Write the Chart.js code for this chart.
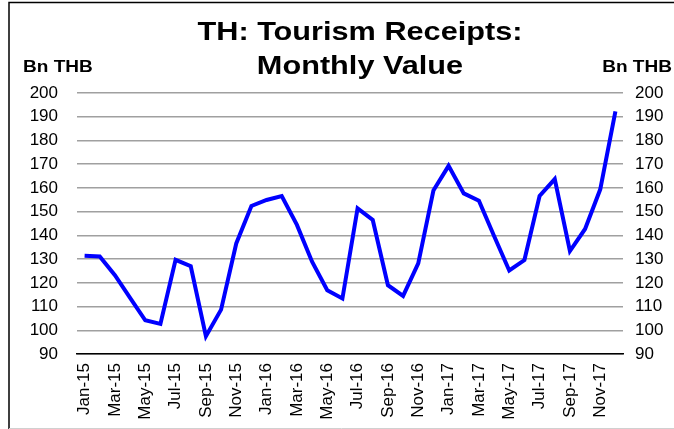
<!DOCTYPE html>
<html>
<head>
<meta charset="utf-8">
<script src="https://cdn.jsdelivr.net/npm/chart.js@4/dist/chart.umd.min.js"></script>
<style>
  html, body { margin: 0; padding: 0; background: #fff; }
  #wrap { position: relative; width: 674px; height: 429px; }
</style>
</head>
<body>
<div id="wrap"><canvas id="chart"></canvas></div>
<script>
const months = [
  "Jan-15", "Feb-15", "Mar-15", "Apr-15", "May-15", "Jun-15", "Jul-15", "Aug-15", "Sep-15", "Oct-15", "Nov-15", "Dec-15",
  "Jan-16", "Feb-16", "Mar-16", "Apr-16", "May-16", "Jun-16", "Jul-16", "Aug-16", "Sep-16", "Oct-16", "Nov-16", "Dec-16",
  "Jan-17", "Feb-17", "Mar-17", "Apr-17", "May-17", "Jun-17", "Jul-17", "Aug-17", "Sep-17", "Oct-17", "Nov-17", "Dec-17"
];

// monthly tourism receipts, Bn THB
const receipts = [
  131.4, 131.1, 123.2, 113.7, 104.2, 102.7, 129.7, 127.0, 97.5, 108.7, 136.6, 152.4,
  154.9, 156.6, 144.4, 128.9, 116.9, 113.4, 151.4, 146.5, 119.0, 114.5, 128.2, 158.9,
  169.3, 157.7, 154.6, 139.7, 125.2, 129.6, 156.6, 163.7, 133.4, 142.7, 159.4, 192.3
];

const titleLines = ["TH: Tourism Receipts:", "Monthly Value"];
const unitLabel = "Bn THB";
const yMin = 90;
const yMax = 200;
const yStep = 10;

const FONT = "'Liberation Sans', Arial, sans-serif";

// stretched text helper, the original fonts are a bit wider than Arial
function wideText(ctx, text, x, y, sx, align) {
  ctx.save();
  ctx.translate(x, y);
  ctx.scale(sx, 1);
  ctx.textAlign = align;
  ctx.fillText(text, 0, 0);
  ctx.restore();
}

const frameAndTitles = {
  id: "frameAndTitles",
  beforeDraw(chart) {
    const ctx = chart.ctx;
    ctx.save();
    ctx.fillStyle = "#fff";
    ctx.fillRect(0, 0, chart.width, chart.height);
    ctx.strokeStyle = "#000";
    ctx.lineWidth = 1.5;
    ctx.beginPath();
    ctx.moveTo(9, chart.height);
    ctx.lineTo(9, 2.5);
    ctx.lineTo(chart.width, 2.5);
    ctx.stroke();
    ctx.strokeStyle = "#d0d0d0";
    ctx.lineWidth = 1;
    ctx.beginPath();
    ctx.moveTo(9, 428.5);
    ctx.lineTo(chart.width, 428.5);
    ctx.stroke();
    ctx.restore();
  },
  afterDraw(chart) {
    const ctx = chart.ctx;
    ctx.save();
    ctx.fillStyle = "#000";
    ctx.textBaseline = "alphabetic";
    ctx.font = "bold 26px " + FONT;
    wideText(ctx, titleLines[0], 360, 40, 1.18, "center");
    wideText(ctx, titleLines[1], 360, 74, 1.18, "center");
    ctx.font = "bold 17px " + FONT;
    wideText(ctx, unitLabel, 23, 72, 1.12, "left");
    wideText(ctx, unitLabel, 672, 72, 1.12, "right");
    ctx.restore();
  }
};

new Chart(document.getElementById("chart"), {
  type: "line",
  data: {
    labels: months,
    datasets: [{
      label: "Tourism receipts",
      data: receipts,
      borderColor: "#0000ff",
      borderWidth: 4,
      pointRadius: 0,
      tension: 0,
      yAxisID: "y"
    }]
  },
  options: {
    responsive: true,
    maintainAspectRatio: false,
    animation: false,
    layout: { padding: { top: 93, left: 0, right: 0, bottom: 0 } },
    plugins: {
      legend: { display: false },
      tooltip: { enabled: false }
    },
    scales: {
      x: {
        offset: true,
        grid: { display: false, drawTicks: false },
        border: { display: true, color: "#000", width: 1.5 },
        afterFit(scale) { scale.height = 75; },
        ticks: {
          autoSkip: false,
          minRotation: 90,
          maxRotation: 90,
          padding: 9,
          color: "#000",
          font: { family: FONT, size: 17 },
          callback(value, index) {
            return index % 2 === 0 ? months[index] : "";
          }
        }
      },
      y: {
        position: "left",
        min: yMin,
        max: yMax,
        grid: { color: "#a0a0a0", lineWidth: 1.5, drawTicks: false },
        border: { display: false },
        afterFit(scale) { scale.width = 77; },
        ticks: {
          stepSize: yStep,
          padding: 19,
          color: "#000",
          font: { family: FONT, size: 17 }
        }
      },
      y2: {
        position: "right",
        min: yMin,
        max: yMax,
        grid: { display: false, drawTicks: false },
        border: { display: false },
        afterFit(scale) { scale.width = 51; },
        ticks: {
          stepSize: yStep,
          padding: 12,
          color: "#000",
          font: { family: FONT, size: 17 }
        }
      }
    }
  },
  plugins: [frameAndTitles]
});
</script>
</body>
</html>
